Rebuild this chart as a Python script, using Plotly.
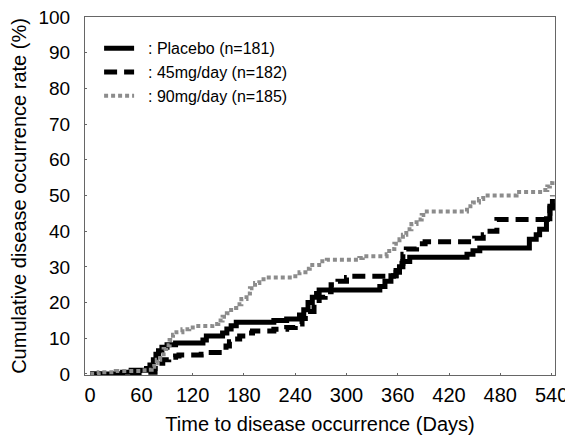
import plotly.graph_objects as go

# Placebo (n=181)
placebo_days = [0, 38, 48, 62, 66, 70, 74, 77, 80, 84, 90, 100, 132, 136, 155, 160, 165, 171, 206, 215, 230,
                245, 250, 255, 260, 265, 268, 339, 345, 352, 358, 362, 366, 374, 441, 448, 456, 511, 514, 522,
                526, 534, 538, 541]
placebo_vals = [0, 0.5, 1.0, 1.0, 1.5, 2.5, 4, 5.5, 6.5, 7.5, 8.2, 8.7, 9.5, 10.6, 11.5, 12.6, 13.5, 14.5, 14.5,
                15, 15.4, 16.5, 18, 20, 21.5, 22.5, 23.5, 24.5, 26, 27.5, 28.5, 30, 31.5, 32.7, 33.5, 34.5, 35.3,
                35.3, 37.7, 39, 40.5, 43.5, 46.5, 49]

# 45mg/day (n=182)
mg45_days = [0, 55, 65, 72, 76, 80, 85, 92, 100, 104, 130, 136, 155, 159, 163, 167, 175, 183, 190, 215, 230, 240,
             248, 255, 262, 268, 275, 282, 290, 300, 304, 355, 358, 362, 366, 370, 382, 392, 445, 450, 460, 468,
             476, 530, 535, 538, 541]
mg45_vals = [0, 0.3, 0.5, 0.5, 1.5, 3, 4, 4.7, 5, 5.3, 5.5, 6, 6, 7.8, 9, 9.8, 10.6, 11.5, 12, 12.5, 13, 14,
             15.5, 17.5, 19.5, 21.5, 23, 25, 26, 27, 27.4, 27.5, 29, 31, 33.5, 35, 36.5, 37, 37, 38, 39, 40,
             43.3, 43.3, 45, 47, 50]

# 90mg/day (n=185)
mg90_days = [0, 10, 30, 60, 68, 72, 75, 78, 82, 86, 89, 93, 97, 101, 108, 116, 124, 143, 150, 155, 160, 165, 171,
             177, 183, 187, 193, 198, 206, 237, 245, 252, 257, 268, 277, 315, 319, 347, 350, 356, 362, 366, 370,
             376, 382, 388, 394, 441, 445, 448, 455, 460, 495, 499, 530, 535, 538, 541]
mg90_vals = [0, 0.5, 0.8, 1, 1.2, 2, 3, 4, 5.5, 7, 8, 9.5, 11, 11.7, 12.5, 13, 13.4, 14, 15, 16, 17, 18.5, 19.5,
             21, 22.5, 24, 25.5, 26.5, 27, 27.4, 28.5, 29.5, 30.5, 31.6, 32, 32.5, 33, 33.5, 35, 36.5, 37.7, 39,
             40.5, 42, 43.3, 44.5, 45.5, 46, 47, 48, 49, 50, 50, 51, 51.5, 52.5, 53.5, 54]

x_ticks = [0, 60, 120, 180, 240, 300, 360, 420, 480, 540]
y_ticks = [0, 10, 20, 30, 40, 50, 60, 70, 80, 90, 100]

FONT = "Liberation Sans, Arial, sans-serif"

fig = go.Figure()
fig.add_trace(go.Scatter(x=placebo_days, y=placebo_vals, mode="lines", line_shape="hv",
                         line=dict(color="black", width=5), name="  : Placebo (n=181)"))
fig.add_trace(go.Scatter(x=mg45_days, y=mg45_vals, mode="lines", line_shape="hv",
                         line=dict(color="black", width=5, dash="13px,7px"), name="  : 45mg/day (n=182)"))
fig.add_trace(go.Scatter(x=mg90_days, y=mg90_vals, mode="lines", line_shape="hv",
                         line=dict(color="#8c8c8c", width=4, dash="4px,3px"), name="  : 90mg/day (n=185)"))

# The page body keeps its default 8px margin, so the figure is 8px smaller on each axis.
fig.update_layout(
    width=565, height=433,
    margin=dict(l=77, r=18, t=9, b=66),
    paper_bgcolor="white", plot_bgcolor="white",
    font=dict(family=FONT, color="black"),
    showlegend=True,
    legend=dict(x=0.03, y=0.96, xanchor="left", yanchor="top", bgcolor="rgba(0,0,0,0)",
                font=dict(size=16, family=FONT), tracegroupgap=0, itemwidth=30),
    xaxis=dict(range=[-6, 544], tickvals=x_ticks, ticktext=[str(v) for v in x_ticks],
               showgrid=False, zeroline=False, showline=True, linecolor="#666", linewidth=1, mirror=True,
               ticks="inside", ticklen=2, tickcolor="#666", tickfont=dict(size=20),
               ticklabelstandoff=2, automargin=False, ticklabeloverflow="allow",
               title=dict(text="Time to disease occurrence (Days)", font=dict(size=20), standoff=11)),
    yaxis=dict(range=[-0.3, 100], tickvals=y_ticks, ticktext=[str(v) for v in y_ticks],
               showgrid=False, zeroline=False, showline=True, linecolor="#666", linewidth=1, mirror=True,
               ticks="inside", ticklen=2, tickcolor="#666", tickfont=dict(size=19),
               ticklabelstandoff=10, automargin=False, ticklabeloverflow="allow",
               title=dict(text="Cumulative disease occurrence rate (%)", font=dict(size=20), standoff=6)),
)

fig.write_html("out.html")
